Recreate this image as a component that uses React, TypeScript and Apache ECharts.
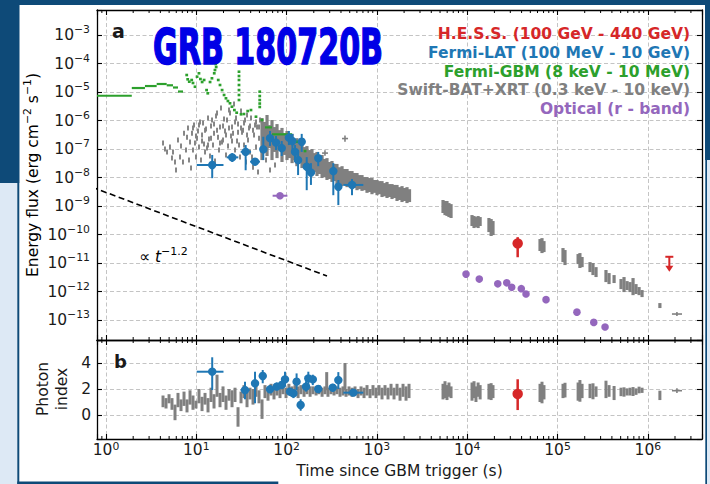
import React, { useEffect, useRef } from 'react';
import * as echarts from 'echarts';

const FONT = '"DejaVu Sans", sans-serif';
const INK = '#1a1a1a';
const NAVY = '#0e4a78';
const PALE = '#dde9f5';
const COLORS = { hess: '#d62728', lat: '#1f77b4', gbm: '#2ca02c', swift: '#808080', optical: '#9467bd' };

// Axis ranges (data units)
const timeRange = [0.795, 3.98e6];
const fluxRange = [2.0e-14, 7.53e-3];
const indexRange = [-1.846, 5.77];
const minorTickFactors = [2, 3, 4, 5, 6, 7, 8, 9];
const minorTickDecades = [-1, 0, 1, 2, 3, 4, 5, 6];

// Fermi-GBM wide time bins: [t start (s), t end (s), energy flux]
const gbmBins = [
  [0.5, 1.93, 7.4e-6], [1.93, 2.7, 1.38e-5], [2.7, 3.64, 1.62e-5], [3.64, 4.7, 1.91e-5],
  [4.7, 5.52, 1.72e-5], [5.52, 6.27, 1.44e-5], [6.27, 7.13, 1.04e-5],
  [57.6, 68.9, 5.75e-7], [68.9, 115, 3.28e-7],
];
// Fermi-GBM short bins: [t (s), energy flux]
const gbmPoints = [
  [7.83, 3.95e-5], [8.03, 2.79e-5], [8.36, 2.3e-5], [8.89, 2.64e-5], [9.19, 2.07e-5], [9.68, 1.53e-5],
  [10.2, 3.44e-5], [10.7, 4.53e-5], [11.1, 2.86e-5], [11.6, 2.24e-5], [12.2, 2.64e-5], [13.0, 1.17e-5],
  [13.4, 9.0e-6], [14.2, 2.24e-5], [14.9, 3.03e-5], [15.8, 4.53e-5], [16.2, 1.25e-4], [16.4, 9.6e-5],
  [16.1, 5.9e-5], [16.6, 7.53e-5], [17.5, 2.64e-5], [18.3, 1.76e-5], [19.3, 1.17e-5], [20.3, 7.85e-6],
  [21.3, 6.01e-6], [22.4, 4.83e-6], [23.6, 4.02e-6], [24.8, 3.05e-6], [26.4, 2.33e-6], [28.0, 1.88e-6],
  [29.7, 5.15e-5], [29.7, 3.64e-5], [29.7, 2.64e-5], [29.7, 1.76e-5], [29.7, 1.17e-5], [29.7, 7.85e-6],
  [29.7, 5.24e-6], [31.3, 1.65e-6], [33.7, 1.69e-6], [37.1, 2.15e-6], [40.3, 2.33e-6], [45.8, 1.36e-6],
  [50.4, 1.03e-5], [50.4, 7.24e-6], [50.4, 5.24e-6], [50.4, 3.94e-6], [50.4, 2.98e-6], [53.4, 1.04e-6],
  [130, 1.8e-7], [160, 8.5e-8],
];

// Swift-BAT early light curve: [t (s), energy flux]
const batPoints = [
  [4.28, 1.63e-7], [4.5, 1.0e-7], [4.74, 7.9e-8], [5.11, 1.17e-7], [5.38, 4.8e-8], [5.52, 7.9e-8], [5.81, 3.5e-8],
  [5.96, 1.83e-8], [6.27, 2.07e-7], [6.6, 5.2e-8], [6.77, 1.27e-7], [7.12, 3.5e-8], [7.31, 3.6e-7], [7.69, 9.2e-8],
  [7.89, 2.6e-7], [8.09, 5.5e-7], [8.3, 4.1e-8], [8.52, 1.76e-7], [8.74, 2.15e-8], [8.96, 3.6e-7], [9.19, 9.2e-8],
  [9.43, 6.9e-7], [9.67, 1.63e-7], [9.92, 5.2e-8], [10.18, 2.4e-7], [10.44, 4.3e-7], [10.71, 1.17e-7], [10.99, 8.9e-7],
  [11.27, 4.1e-8], [11.57, 3.1e-7], [11.87, 8.2e-7], [12.17, 1.5e-7], [12.49, 7.9e-8], [12.81, 5.0e-7], [13.14, 1.08e-7],
  [13.48, 1.22e-6], [13.82, 2.24e-7], [14.18, 5.7e-8], [14.55, 6.4e-7], [14.93, 1.04e-6], [15.31, 1.38e-7], [15.71, 3.6e-7],
  [16.11, 3.8e-8], [16.53, 1.44e-6], [16.96, 1.83e-6], [17.39, 2.6e-7], [17.84, 9.2e-8], [18.3, 5.9e-7], [18.77, 2.75e-6],
  [19.26, 1.76e-7], [19.76, 2.07e-7], [20.27, 1.13e-6], [20.79, 4.3e-7], [21.33, 6.2e-8], [21.88, 1.04e-6], [22.45, 1.27e-7],
  [23.02, 2.33e-6], [23.62, 1.83e-6], [24.23, 2.86e-7], [24.86, 5.9e-7], [25.5, 3.6e-7], [26.16, 3.79e-6], [26.84, 9.2e-8],
  [27.53, 1.22e-6], [28.24, 1.91e-7], [28.97, 7.5e-7], [29.72, 1.38e-7], [30.48, 5.2e-8], [31.27, 2.15e-6], [32.08, 3.9e-7],
  [32.91, 4.6e-7], [33.75, 1.38e-7], [34.63, 1.04e-6], [35.52, 3.5e-8], [36.44, 1.56e-6], [37.38, 2.07e-7], [38.34, 5.5e-7],
  [39.34, 7.9e-8], [40.35, 1.22e-6], [41.39, 5.2e-8], [42.46, 2.3e-8], [43.56, 3.1e-7], [44.68, 6.9e-7], [45.84, 1.17e-7],
  [47.02, 5.9e-7], [48.24, 1.56e-8], [49.48, 2.4e-7], [50.76, 1.04e-6], [52.07, 9.2e-8], [53.42, 3.6e-7], [56.21, 1.38e-7],
  [59.15, 4.1e-8], [62.23, 2.07e-7], [65.5, 1.83e-8], [68.9, 3.6e-7], [74.4, 2.75e-8], [80.3, 2.4e-7],
  [9.19, 5.5e-7], [9.92, 2.86e-7], [10.71, 6.9e-7], [11.57, 1.91e-7], [12.49, 4.6e-7], [13.48, 1.38e-7], [14.55, 2.4e-7],
  [15.71, 7.5e-7], [16.96, 4.6e-7], [18.3, 1.63e-7], [19.76, 6.4e-7], [21.33, 3.1e-7], [23.02, 5.5e-7], [24.86, 1.91e-7],
  [26.84, 8.9e-7], [28.97, 3.9e-7], [31.27, 5.5e-7], [33.75, 8.2e-7], [36.44, 3.1e-7], [39.34, 6.4e-7], [42.46, 4.6e-7],
  [45.84, 8.9e-7], [49.48, 5.9e-7],
];

// Swift-XRT energy flux: [t (s), upper flux, lower flux]
const xrtFlux = [
  [53.4, 1.22e-6, 4.1e-8], [56.9, 8.9e-7, 9.2e-8], [60.7, 1.56e-6, 5.7e-8], [64.7, 6.9e-7, 1.08e-7], [68.9, 1.04e-6, 4.1e-8],
  [73.5, 5.9e-7, 7.9e-8], [78.3, 7.5e-7, 4.8e-8], [83.4, 4.6e-7, 9.2e-8], [88.9, 5.5e-7, 3.5e-8], [94.8, 3.6e-7, 6.2e-8],
  [101, 4.3e-7, 4.1e-8], [108, 2.6e-7, 4.8e-8], [115, 3.4e-7, 3.2e-8], [122, 2.07e-7, 4.1e-8], [130, 2.4e-7, 2.5e-8],
  [139, 1.5e-7, 3.2e-8], [148, 1.76e-7, 2.15e-8], [158, 1.17e-7, 2.5e-8], [168, 1.27e-7, 1.69e-8], [179, 9.2e-8, 1.99e-8],
  [191, 1.0e-7, 1.33e-8], [204, 7.2e-8, 1.56e-8], [217, 7.9e-8, 1.13e-8], [231, 5.7e-8, 1.33e-8], [247, 6.2e-8, 9.6e-9],
  [263, 4.5e-8, 1.04e-8], [280, 4.8e-8, 8.2e-9], [299, 3.5e-8, 8.9e-9], [318, 3.8e-8, 7.0e-9], [339, 3.0e-8, 7.5e-9],
  [361, 3.0e-8, 5.9e-9], [385, 2.3e-8, 6.4e-9], [411, 2.5e-8, 5.0e-9], [438, 1.99e-8, 5.5e-9], [467, 1.99e-8, 4.6e-9],
  [497, 1.69e-8, 5.0e-9], [530, 1.69e-8, 3.9e-9], [565, 1.44e-8, 4.3e-9], [602, 1.44e-8, 3.6e-9], [642, 1.22e-8, 3.9e-9],
  [684, 1.22e-8, 3.4e-9], [729, 1.04e-8, 3.6e-9], [777, 1.04e-8, 2.9e-9], [828, 9.6e-9, 3.1e-9], [882, 9.6e-9, 2.6e-9],
  [941, 8.2e-9, 2.9e-9], [1003, 8.2e-9, 2.4e-9], [1069, 7.5e-9, 2.6e-9], [1139, 7.5e-9, 2.07e-9], [1214, 6.4e-9, 2.2e-9],
  [1294, 7.0e-9, 1.91e-9], [1379, 5.9e-9, 2.07e-9], [1470, 5.9e-9, 1.76e-9], [1567, 5.5e-9, 1.91e-9], [1670, 5.5e-9, 1.5e-9],
  [1780, 4.6e-9, 1.63e-9], [1897, 5.0e-9, 1.38e-9], [2021, 4.3e-9, 1.5e-9], [2154, 4.6e-9, 1.27e-9], [2296, 3.9e-9, 1.38e-9],
  [5395, 1.63e-9, 5.7e-10], [5675, 1.5e-9, 4.8e-10], [5970, 1.5e-9, 4.5e-10], [6280, 1.27e-9, 4.1e-10], [6620, 1.17e-9, 3.8e-10],
  [11300, 4.83e-10, 1.99e-10], [11900, 4.46e-10, 1.69e-10], [12500, 4.11e-10, 1.83e-10], [13200, 4.46e-10, 1.69e-10],
  [13900, 4.11e-10, 1.99e-10], [17400, 3.8e-10, 1.22e-10], [18400, 3.5e-10, 8.9e-11], [19300, 2.98e-10, 9.6e-11],
  [64000, 6.95e-11, 2.64e-11], [67300, 7.5e-11, 2.24e-11], [70800, 5.9e-11, 2.43e-11],
  [115000, 3.36e-11, 1.08e-11], [121000, 2.86e-11, 8.5e-12],
  [169000, 2.07e-11, 9.2e-12], [177000, 2.24e-11, 6.7e-12], [187000, 1.63e-11, 7.2e-12],
  [229000, 1.08e-11, 4.83e-12], [247000, 1.0e-11, 3.79e-12], [267000, 7.2e-12, 3.23e-12],
  [344000, 5.7e-12, 2.15e-12], [372000, 4.46e-12, 1.83e-12], [423000, 3.79e-12, 1.99e-12],
  [505000, 2.75e-12, 1.22e-12], [545000, 3.23e-12, 9.6e-13], [589000, 2.33e-12, 1.13e-12],
  [635000, 2.15e-12, 9.6e-13], [686000, 2.98e-12, 7.5e-13], [740000, 1.83e-12, 8.2e-13],
  [800000, 1.44e-12, 7.5e-13], [863000, 1.13e-12, 6.4e-13], [1.36e6, 3.95e-13, 2.64e-13],
];
// Swift single points with both error bars: [t, flux, t lo, t hi, flux lo, flux hi]
const swiftCross = [
  [443, 2.33e-7, 411, 479, 1.8e-7, 3.0e-7],
  [266, 7.2e-8, 247, 287, 5.8e-8, 9.0e-8],
  [2.1e6, 1.63e-13, 1.85e6, 2.39e6, 1.38e-13, 1.91e-13],
];

// Fermi-LAT energy flux: [t, flux, t lo, t hi, flux lo, flux hi]
const latFlux = [
  [15.0, 2.75e-8, 10.1, 20.0, 9.5e-9, 6.2e-8], [25.0, 5.1e-8, 21.7, 29.2, 3.5e-8, 7.2e-8],
  [35.2, 8.0e-8, 31.0, 40.4, 1.8e-8, 1.38e-7], [44.7, 3.6e-8, 39.4, 50.7, 2.7e-8, 4.5e-8],
  [55.2, 9.8e-8, 52.0, 58.5, 4.1e-8, 2.7e-7], [65.5, 2.4e-7, 62.0, 69.0, 1.27e-7, 4.3e-7],
  [76.3, 1.69e-7, 72.5, 80.5, 9.2e-8, 2.86e-7], [88.3, 1.08e-7, 84.5, 92.0, 5.7e-8, 1.91e-7],
  [106, 2.5e-7, 101, 111, 1.38e-7, 4.3e-7], [116, 1.91e-7, 112, 120, 7.2e-8, 3.4e-7],
  [124, 7.9e-8, 121, 128, 3.5e-8, 1.38e-7], [134, 4.1e-8, 130, 138, 1.22e-8, 9.2e-8],
  [147, 1.8e-7, 142, 152, 7.9e-8, 3.4e-7], [167, 2.4e-8, 160, 174, 3.6e-9, 5.2e-8],
  [186, 1.5e-8, 178, 194, 5.5e-9, 3.2e-8], [224, 4.8e-8, 212, 236, 2.5e-8, 7.9e-8],
  [329, 1.69e-8, 310, 348, 2.4e-9, 3.2e-8], [374, 4.75e-9, 355, 394, 1.08e-9, 8.2e-9],
  [530, 5.5e-9, 425, 707, 2.4e-9, 8.9e-9],
];

// Optical r-band: [t, flux, t lo, t hi]
const opticalFlux = [
  [84.5, 2.3e-9, 70, 102], [9700, 4.1e-12, 9700, 9700], [13600, 2.75e-12, 13600, 13600],
  [21800, 1.87e-12, 21800, 21800], [27400, 2.03e-12, 27400, 27400], [31100, 1.41e-12, 31100, 31100],
  [39700, 1.26e-12, 39700, 39700], [44800, 8.2e-13, 44800, 44800], [74600, 5.2e-13, 74600, 74600],
  [164000, 1.9e-13, 164000, 164000], [252000, 8.3e-14, 252000, 252000], [336000, 5.7e-14, 336000, 336000],
];

// H.E.S.S.: detection [t, flux, t lo, t hi, flux lo, flux hi] and late upper limit [t, flux]
const hessFlux = [[36200, 4.9e-11, 36200, 36200, 1.6e-11, 8.1e-11]];
const hessUpperLimit = [[1.73e6, 1.66e-11]];

// Decay guide  ∝ t^-1.2
const powerLawT = [0.7, 280];
const powerLawF = [4.6e-9, 3.5e-12];

// Photon index panel
const swiftIndex = [
  [4.28, 0.6, 1.5], [4.62, 0.5, 1.3], [4.99, 0.9, 1.6], [5.38, 0.4, 1.3], [5.81, -0.4, 0.8], [6.27, 0.6, 1.7],
  [6.77, 0.3, 1.2], [7.31, 0.7, 1.8], [7.89, 0.2, 1.2], [8.52, 0.8, 1.9], [9.19, 0.4, 1.5], [9.92, 0.5, 1.1],
  [10.71, 0.9, 2.0], [11.57, 0.3, 1.4], [12.49, 0.8, 1.7], [13.48, 0.2, 1.3], [14.55, 1.0, 2.1], [15.71, 0.5, 1.6],
  [16.96, 1.4, 3.1], [18.3, 0.6, 1.7], [19.76, 1.0, 2.2], [21.33, 0.4, 1.5], [23.02, 1.1, 2.0], [24.86, 0.6, 1.9],
  [26.84, 1.0, 2.1], [28.97, -0.9, 0.6], [31.27, 0.9, 1.8], [33.75, 1.3, 2.3], [36.44, 0.6, 1.8], [39.34, 1.2, 2.1],
  [42.46, 0.8, 2.0], [45.84, 1.4, 2.2], [49.48, 0.9, 1.9], [53.42, -0.3, 1.2], [57.6, 1.3, 2.3], [62.23, 1.1, 2.0],
  [67.2, 1.5, 2.4], [72.5, 1.2, 2.1], [78.3, 1.5, 2.3], [84.5, 1.3, 2.2], [91.2, 1.6, 2.5], [98.5, 1.3, 2.1],
  [106, 1.6, 2.4], [115, 1.4, 2.2], [124, 1.6, 2.3], [134, 1.3, 2.2], [144, 1.6, 2.3], [156, 1.4, 2.1],
  [168, 1.6, 2.3], [182, 1.4, 2.2], [196, 1.6, 2.2], [212, 1.5, 2.2], [228, 1.6, 2.3], [247, 1.4, 2.1],
  [266, 1.6, 2.2], [278, 1.9, 3.3], [287, 1.4, 2.1], [310, 1.6, 2.2], [335, 1.5, 2.1], [361, 1.6, 2.2],
  [390, 1.4, 2.1], [421, 1.5, 2.2], [443, 1.9, 4.0], [455, 1.4, 2.0], [491, 1.5, 2.2], [530, 1.4, 2.1],
  [572, 1.5, 2.2], [618, 1.3, 2.0], [667, 1.5, 2.2], [720, 1.3, 2.1], [777, 1.5, 2.3], [839, 1.3, 2.0],
  [905, 1.5, 2.3], [977, 1.3, 2.1], [1055, 1.5, 2.3], [1139, 1.2, 2.1], [1229, 1.5, 2.3], [1327, 1.2, 2.1],
  [1433, 1.5, 2.4], [1547, 1.2, 2.1], [1670, 1.5, 2.4], [1803, 1.1, 2.1], [1946, 1.4, 2.4], [2101, 1.1, 2.2],
  [2267, 1.3, 2.4],
  [5395, 1.2, 2.4], [5675, 1.3, 2.6], [5970, 1.15, 2.3], [6280, 1.4, 2.5], [6620, 1.3, 2.2],
  [11300, 1.1, 2.5], [11900, 1.3, 2.6], [12500, 1.0, 2.2], [13200, 1.4, 2.5], [13900, 1.2, 2.3],
  [17400, 1.2, 2.4], [18400, 1.15, 2.45], [19300, 1.3, 2.3],
  [64000, 1.0, 2.4], [67300, 0.9, 2.56], [70800, 1.2, 2.3],
  [115000, 1.3, 2.4], [121000, 1.35, 2.48],
  [169000, 1.1, 2.5], [177000, 1.02, 2.69], [187000, 1.3, 2.4],
  [229000, 1.3, 2.4], [247000, 1.21, 2.44], [267000, 1.4, 2.2],
  [344000, 1.3, 2.64], [372000, 1.4, 2.3], [423000, 1.15, 2.23],
  [505000, 1.45, 2.1], [545000, 1.41, 2.13], [589000, 1.5, 2.05],
  [635000, 1.5, 2.1], [686000, 1.46, 2.15], [740000, 1.55, 2.05],
  [800000, 1.67, 2.18], [863000, 1.7, 2.1], [1.36e6, 1.15, 1.87],
];
const swiftIndexCross = [[2.1e6, 1.87, 1.85e6, 2.39e6, 1.7, 2.05]];
// [t, index, t lo, t hi, index lo, index hi]
const latIndex = [
  [15.0, 3.33, 10.1, 20.0, 1.92, 4.44], [34.6, 1.92, 31.0, 39.0, 1.21, 2.56], [44.7, 2.44, 41.5, 48.0, 0.9, 3.33],
  [54.4, 3.0, 52.0, 57.0, 2.44, 3.46], [65.5, 1.98, 63.0, 68.0, 1.7, 2.3], [77.7, 2.18, 75, 80.5, 1.9, 2.5],
  [88.3, 2.31, 85.5, 91, 2.0, 2.6], [96, 2.74, 93, 99, 2.18, 3.33], [109, 1.79, 106, 112, 1.5, 2.1],
  [119, 1.67, 116, 122, 1.3, 2.0], [129, 2.56, 126, 132, 1.9, 3.2], [143, 0.77, 139, 147, 0.33, 1.21],
  [164, 2.18, 159, 169, 1.8, 2.6], [174, 2.82, 169, 179, 2.18, 3.33], [195, 2.74, 189, 201, 2.3, 3.1],
  [224, 2.0, 217, 231, 1.8, 2.2], [324, 2.1, 314, 334, 1.8, 2.4], [374, 2.69, 362, 386, 2.0, 3.3],
  [548, 1.72, 425, 707, 1.6, 1.85],
];
const hessIndex = [[36200, 1.62, 36200, 36200, 0.38, 2.75]];

const legendEntries = [
  { text: 'H.E.S.S. (100 GeV - 440 GeV)', color: COLORS.hess },
  { text: 'Fermi-LAT (100 MeV - 10 GeV)', color: COLORS.lat },
  { text: 'Fermi-GBM (8 keV - 10 MeV)', color: COLORS.gbm },
  { text: 'Swift-BAT+XRT (0.3 keV - 10 keV)', color: COLORS.swift },
  { text: 'Optical (r - band)', color: COLORS.optical },
];

const lg = (v: number) => Math.log10(v);
const isWhole = (v: number) => Math.abs(v - Math.round(v)) < 1e-6;
const MINUS = '\u2212';

function powerLabel(v: number) {
  if (!isWhole(v)) return '';
  const n = Math.round(v);
  return `{b|10}{s|${n < 0 ? MINUS + -n : n}}`;
}

function supRich(size: number, lineHeight: number) {
  return {
    b: { fontFamily: FONT, fontSize: size, lineHeight, color: INK },
    s: { fontFamily: FONT, fontSize: size * 0.7, lineHeight: Math.round(size * 0.7), verticalAlign: 'top', color: INK },
  };
}

function errorBars(color: string, lineWidth: number, radius: number) {
  return (_p: any, api: any) => {
    const x = api.value(0), y = api.value(1);
    const x0 = api.value(2), x1 = api.value(3), y0 = api.value(4), y1 = api.value(5);
    const c = api.coord([x, y]);
    const children: any[] = [];
    if (x1 - x0 > 1e-9) {
      const a = api.coord([x0, y]), b = api.coord([x1, y]);
      children.push({ type: 'line', shape: { x1: a[0], y1: a[1], x2: b[0], y2: b[1] }, style: { stroke: color, lineWidth } });
    }
    if (y1 - y0 > 1e-9) {
      const a = api.coord([x, y0]), b = api.coord([x, y1]);
      children.push({ type: 'line', shape: { x1: a[0], y1: a[1], x2: b[0], y2: b[1] }, style: { stroke: color, lineWidth } });
    }
    if (radius > 0) children.push({ type: 'circle', shape: { cx: c[0], cy: c[1], r: radius }, style: { fill: color } });
    return { type: 'group', children };
  };
}

function verticalBars(color: string, lineWidth: number) {
  return (_p: any, api: any) => {
    const a = api.coord([api.value(0), api.value(1)]);
    const b = api.coord([api.value(0), api.value(2)]);
    return { type: 'line', shape: { x1: a[0], y1: a[1], x2: b[0], y2: b[1] }, style: { stroke: color, lineWidth } };
  };
}

function horizontalBins(color: string, lineWidth: number) {
  return (_p: any, api: any) => {
    const a = api.coord([api.value(0), api.value(2)]);
    const b = api.coord([api.value(1), api.value(2)]);
    return { type: 'line', shape: { x1: a[0], y1: a[1], x2: b[0], y2: b[1] }, style: { stroke: color, lineWidth } };
  };
}

function dots(color: string, w: number, h: number) {
  return (_p: any, api: any) => {
    const c = api.coord([api.value(0), api.value(1)]);
    return { type: 'rect', shape: { x: c[0] - w / 2, y: c[1] - h / 2, width: w, height: h }, style: { fill: color } };
  };
}

function upperLimit(color: string) {
  return (_p: any, api: any) => {
    const c = api.coord([api.value(0), api.value(1)]);
    return {
      type: 'group',
      children: [
        { type: 'line', shape: { x1: c[0] - 4, y1: c[1], x2: c[0] + 4, y2: c[1] }, style: { stroke: color, lineWidth: 2 } },
        { type: 'line', shape: { x1: c[0], y1: c[1], x2: c[0], y2: c[1] + 10 }, style: { stroke: color, lineWidth: 2 } },
        { type: 'polygon', shape: { points: [[c[0] - 4, c[1] + 9], [c[0] + 4, c[1] + 9], [c[0], c[1] + 15]] }, style: { fill: color } },
      ],
    };
  };
}

function minorTicks(_p: any, api: any) {
  const cs = _p.coordSys;
  const px = api.coord([api.value(0), api.value(1)])[0];
  const st = { stroke: '#000', lineWidth: 1 };
  return {
    type: 'group',
    children: [
      { type: 'line', shape: { x1: px, y1: cs.y, x2: px, y2: cs.y + 3 }, style: st },
      { type: 'line', shape: { x1: px, y1: cs.y + cs.height, x2: px, y2: cs.y + cs.height - 3 }, style: st },
    ],
  };
}

const fluxErr = (r: number[]) => [lg(r[0]), lg(r[1]), lg(r[2]), lg(r[3]), lg(r[4]), lg(r[5])];
const indexErr = (r: number[]) => [lg(r[0]), r[1], lg(r[2]), lg(r[3]), r[4], r[5]];

function buildOption() {
  const X = [lg(timeRange[0]), lg(timeRange[1])];
  const Y = [lg(fluxRange[0]), lg(fluxRange[1])];
  const frameLine = { show: true, onZero: false, lineStyle: { color: '#000', width: 1.3 } };
  const majorTick = { show: true, inside: true, length: 5, lineStyle: { color: '#000', width: 1.1 } };
  const dashed = { show: true, lineStyle: { color: '#c4c4c4', width: 1, type: [4, 2.5] } };
  const hidden = { show: false };

  const xBase = { type: 'value', min: X[0], max: X[1], splitNumber: 6, axisLine: frameLine, axisTick: majorTick, splitLine: hidden, axisLabel: hidden };
  const yTop = { type: 'value', min: Y[0], max: Y[1], splitNumber: 10, gridIndex: 0, axisLine: frameLine, axisTick: majorTick, splitLine: hidden, axisLabel: hidden };
  const yBot = { type: 'value', min: indexRange[0], max: indexRange[1], splitNumber: 4, gridIndex: 1, axisLine: frameLine, axisTick: majorTick, splitLine: hidden, axisLabel: hidden };

  const minorPositions: number[] = [];
  minorTickDecades.forEach((d) => minorTickFactors.forEach((f) => {
    const v = d + lg(f);
    if (v > X[0] && v < X[1]) minorPositions.push(v);
  }));

  const top = { xAxisIndex: 0, yAxisIndex: 0 };
  const bot = { xAxisIndex: 2, yAxisIndex: 2 };
  const custom = (name: string, axes: any, data: any[], renderItem: any, z = 2, encode: any = { x: 0, y: 1 }) => ({
    type: 'custom', name, ...axes, data, renderItem, clip: true, silent: true, z, encode,
  });

  const textStyle = (extra: any) => ({ fontFamily: FONT, fontSize: 15.5, fill: INK, ...extra });

  return {
    animation: false,
    backgroundColor: '#fff',
    grid: [
      { left: 97, top: 10, width: 605, height: 330, containLabel: false },
      { left: 97, top: 340, width: 605, height: 99, containLabel: false },
    ],
    xAxis: [
      { ...xBase, gridIndex: 0, position: 'bottom', splitLine: dashed },
      { ...xBase, gridIndex: 0, position: 'top' },
      {
        ...xBase, gridIndex: 1, position: 'bottom', splitLine: dashed,
        axisLabel: { show: true, margin: 2, formatter: powerLabel, rich: supRich(15.5, 18) },
      },
      { ...xBase, gridIndex: 1, position: 'top' },
    ],
    yAxis: [
      {
        ...yTop, position: 'left', splitLine: dashed,
        axisLabel: { show: true, margin: 7, formatter: powerLabel, rich: supRich(15.5, 22) },
      },
      { ...yTop, position: 'right' },
      {
        ...yBot, position: 'left', splitLine: dashed,
        axisLabel: {
          show: true, margin: 6, fontFamily: FONT, fontSize: 15.5, color: INK,
          formatter: (v: number) => (isWhole(v) ? String(Math.round(v)) : ''),
        },
      },
      { ...yBot, position: 'right' },
    ],
    series: [
      custom('minor-top', top, minorPositions.map((v) => [v, -8]), minorTicks, 5),
      custom('minor-bottom', bot, minorPositions.map((v) => [v, 2]), minorTicks, 5),
      {
        type: 'line', name: 'decay', ...top, silent: true, symbol: 'none', clip: true, z: 3,
        data: powerLawT.map((t, i) => [lg(t), lg(powerLawF[i])]),
        lineStyle: { color: '#000', width: 1.6, type: [6, 3.5] },
      },
      custom('Swift-BAT', top, batPoints.map((r) => [lg(r[0]), lg(r[1])]), dots(COLORS.swift, 1.9, 5), 2),
      custom('Swift-XRT', top, xrtFlux.map((r) => [lg(r[0]), lg(r[1]), lg(r[2])]), verticalBars(COLORS.swift, 3.2), 2, { x: 0, y: [1, 2] }),
      custom('Swift points', top, swiftCross.map(fluxErr), errorBars(COLORS.swift, 1.6, 0), 2),
      custom('Fermi-GBM bins', top, gbmBins.map((r) => [lg(r[0]), lg(r[1]), lg(r[2])]), horizontalBins(COLORS.gbm, 2.2), 3, { x: [0, 1], y: 2 }),
      custom('Fermi-GBM', top, gbmPoints.map((r) => [lg(r[0]), lg(r[1])]), dots(COLORS.gbm, 2.8, 2.6), 3),
      custom('Fermi-LAT', top, latFlux.map(fluxErr), errorBars(COLORS.lat, 2, 4.2), 4),
      custom('Optical', top, opticalFlux.map((r) => [lg(r[0]), lg(r[1]), lg(r[2]), lg(r[3]), lg(r[1]), lg(r[1])]), errorBars(COLORS.optical, 2, 3.8), 4),
      custom('H.E.S.S.', top, hessFlux.map(fluxErr), errorBars(COLORS.hess, 2.5, 5.2), 4),
      custom('H.E.S.S. UL', top, hessUpperLimit.map((r) => [lg(r[0]), lg(r[1])]), upperLimit(COLORS.hess), 4),

      custom('Swift index', bot, swiftIndex.map((r) => [lg(r[0]), r[1], r[2]]), verticalBars(COLORS.swift, 3), 2, { x: 0, y: [1, 2] }),
      custom('Swift index pts', bot, swiftIndexCross.map(indexErr), errorBars(COLORS.swift, 1.6, 0), 2),
      custom('Fermi-LAT index', bot, latIndex.map(indexErr), errorBars(COLORS.lat, 2, 4.2), 4),
      custom('H.E.S.S. index', bot, hessIndex.map(indexErr), errorBars(COLORS.hess, 2.5, 5.2), 4),
    ],
    graphic: [
      { type: 'rect', silent: true, shape: { x: 0, y: 0, width: 710, height: 5 }, style: { fill: NAVY } },
      { type: 'rect', silent: true, shape: { x: 0, y: 0, width: 19.5, height: 183 }, style: { fill: NAVY } },
      { type: 'rect', silent: true, shape: { x: 0, y: 183, width: 17.3, height: 301 }, style: { fill: PALE } },
      { type: 'rect', silent: true, shape: { x: 17.3, y: 183, width: 2, height: 301 }, style: { fill: NAVY } },
      { type: 'rect', silent: true, shape: { x: 17.3, y: 481.5, width: 261, height: 2.5 }, style: { fill: NAVY } },
      { type: 'rect', silent: true, shape: { x: 705, y: 0, width: 5, height: 160 }, style: { fill: NAVY } },
      { type: 'rect', silent: true, shape: { x: 705.3, y: 160, width: 1.7, height: 324 }, style: { fill: NAVY } },
      { type: 'rect', silent: true, shape: { x: 707, y: 160, width: 3, height: 324 }, style: { fill: PALE } },

      {
        type: 'text', x: 153, y: 47, scaleX: 0.615, z: 60, silent: true,
        style: { text: 'GRB 180720B', fontFamily: FONT, fontSize: 49, fontWeight: 'bold', fill: '#0000e6', stroke: '#0000e6', lineWidth: 1.6, align: 'left', verticalAlign: 'middle' },
      },
      ...legendEntries.map((e, i) => ({
        type: 'text', x: 690, y: 34 + i * 18.8, z: 60, silent: true,
        style: textStyle({ text: e.text, fill: e.color, fontWeight: 'bold', align: 'right', verticalAlign: 'middle' }),
      })),
      { type: 'text', x: 112, y: 31, z: 60, silent: true, style: textStyle({ text: 'a', fontSize: 19, fontWeight: 'bold', align: 'left', verticalAlign: 'middle' }) },
      { type: 'text', x: 114, y: 361, z: 60, silent: true, style: textStyle({ text: 'b', fontSize: 18, fontWeight: 'bold', align: 'left', verticalAlign: 'middle' }) },
      {
        type: 'text', x: 139, y: 257, z: 60, silent: true,
        style: {
          text: '{n|\u221D }{i|t}{s|' + MINUS + '1.2}', align: 'left', verticalAlign: 'middle',
          rich: {
            n: { fontFamily: FONT, fontSize: 15.5, lineHeight: 22, color: INK },
            i: { fontFamily: FONT, fontSize: 15.5, fontStyle: 'italic', lineHeight: 22, color: INK },
            s: { fontFamily: FONT, fontSize: 11, lineHeight: 11, verticalAlign: 'top', color: INK },
          },
        },
      },
      {
        type: 'text', x: 33, y: 175, rotation: Math.PI / 2, z: 60, silent: true,
        style: {
          text: '{b|Energy flux (erg cm}{s|' + MINUS + '2}{b| s}{s|' + MINUS + '1}{b|)}',
          align: 'center', verticalAlign: 'middle', rich: supRich(15.5, 22),
        },
      },
      {
        type: 'text', x: 52.5, y: 389, rotation: Math.PI / 2, z: 60, silent: true,
        style: textStyle({ text: 'Photon\nindex', lineHeight: 19, align: 'center', verticalAlign: 'middle' }),
      },
      {
        type: 'text', x: 399.5, y: 471, z: 60, silent: true,
        style: textStyle({ text: 'Time since GBM trigger (s)', align: 'center', verticalAlign: 'middle' }),
      },
    ],
  };
}

export default function App() {
  const ref = useRef<HTMLDivElement>(null);
  useEffect(() => {
    if (!ref.current) return;
    const chart = echarts.init(ref.current, undefined, { renderer: 'svg' });
    chart.setOption(buildOption() as any);
    return () => chart.dispose();
  }, []);
  return <div ref={ref} style={{ position: 'absolute', left: 0, top: 0, width: 710, height: 484 }} />;
}
